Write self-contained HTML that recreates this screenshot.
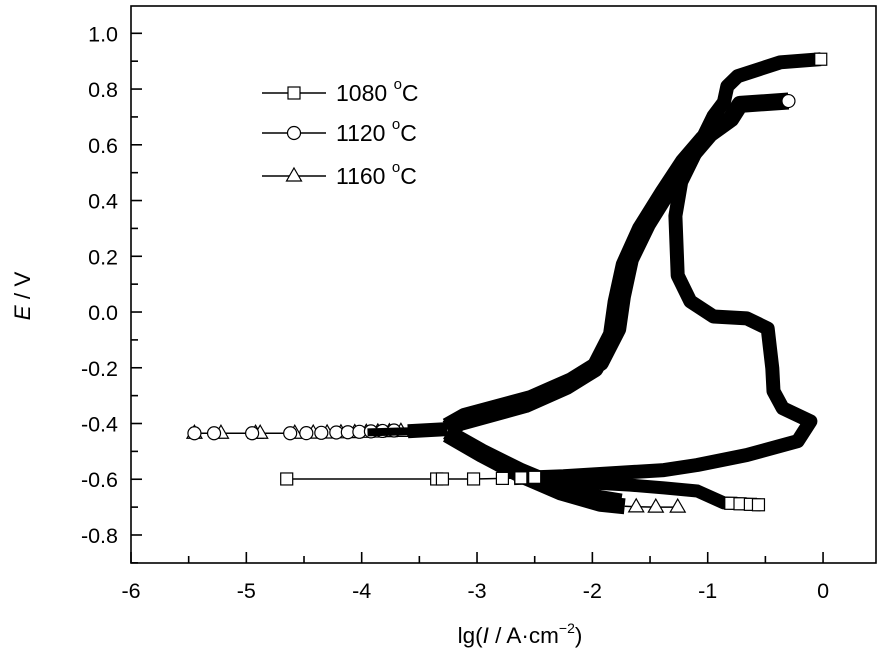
<!DOCTYPE html>
<html><head><meta charset="utf-8"><style>
body{margin:0;background:#fff}
svg{display:block;font-family:"Liberation Sans",Arial,sans-serif}
</style></head><body>
<svg id="chart" width="886" height="656" viewBox="0 0 886 656"></svg>
<script>
// ---- data (lg I, E) ----
const s1080Lg = [-4.65,-3.32,-3.02,-2.68,-2.25,-1.81,-1.38,-1.09,-0.66,-0.22,-0.11,-0.35,-0.43,-0.44,-0.46,-0.48,-0.66,-0.95,-1.15,-1.26,-1.28,-1.23,-0.95,-0.86,-0.83,-0.74,-0.37,-0.02];
const s1080E  = [-0.599,-0.599,-0.599,-0.596,-0.589,-0.578,-0.567,-0.549,-0.513,-0.463,-0.392,-0.345,-0.284,-0.202,-0.131,-0.059,-0.023,-0.016,0.038,0.131,0.345,0.467,0.703,0.753,0.810,0.846,0.896,0.907];
const s1080CathLg = [-2.45,-2.33,-1.67,-1.38,-1.09,-0.86,-0.54];
const s1080CathE  = [-0.600,-0.606,-0.621,-0.631,-0.642,-0.685,-0.692];
const s1080Markers = [-4.65,-3.35,-3.30,-3.03,-2.78,-2.62,-2.50];
const s1080CathMarkers = [-0.80,-0.72,-0.63,-0.56];

const s1120Lg = [-5.45,-4.95,-4.52,-4.09,-3.65,-3.26,-3.11,-2.53,-2.18,-1.93,-1.78,-1.74,-1.67,-1.52,-1.32,-1.15,-0.98,-0.80,-0.72,-0.30];
const s1120E  = [-0.435,-0.435,-0.435,-0.431,-0.424,-0.410,-0.375,-0.310,-0.246,-0.182,-0.061,0.056,0.189,0.317,0.450,0.557,0.639,0.693,0.745,0.757];
const s1120CathLg = [-3.26,-2.96,-2.62,-2.27,-1.93,-1.75];
const s1120CathE  = [-0.430,-0.500,-0.570,-0.630,-0.668,-0.680];
const s1120Markers = [-5.45,-5.28,-4.95,-4.62,-4.48,-4.35,-4.22,-4.12,-4.02,-3.92,-3.82,-3.72];

const s1160Lg = [-5.45,-4.95,-4.52,-4.09,-3.65,-3.26,-3.15,-2.58,-2.23,-1.98,-1.83,-1.79,-1.72,-1.58,-1.38,-1.21,-1.04,-0.90];
const s1160E  = [-0.435,-0.435,-0.435,-0.433,-0.428,-0.420,-0.395,-0.330,-0.266,-0.202,-0.081,0.036,0.169,0.297,0.430,0.537,0.619,0.675];
const s1160CathLg = [-3.26,-2.96,-2.62,-2.27,-1.93,-1.72];
const s1160CathE  = [-0.440,-0.512,-0.586,-0.648,-0.688,-0.697];
const s1160Markers = [-5.45,-5.22,-4.92,-4.88,-4.58,-4.42,-4.30,-4.18,-4.06,-3.96,-3.86,-3.76,-3.66];
const s1160EndLg = [-1.72,-1.62,-1.45,-1.26];
const s1160EndE  = [-0.697,-0.699,-0.700,-0.700];

const xTicks = [-6,-5,-4,-3,-2,-1,0];
const yTicks = [-0.8,-0.6,-0.4,-0.2,0.0,0.2,0.4,0.6,0.8,1.0];

// ---- axes ----
const L=131,R=876,T=6,B=563;
const xMin=-6,xMax=0.459,yMin=-0.9005,yMax=1.098;
const X=v=>L+(v-xMin)/(xMax-xMin)*(R-L);
const Y=v=>B-(v-yMin)/(yMax-yMin)*(B-T);
const NS="http://www.w3.org/2000/svg";
const svg=document.getElementById('chart');
function mk(tag,attrs,parent){const e=document.createElementNS(NS,tag);for(const k in attrs)e.setAttribute(k,attrs[k]);(parent||svg).appendChild(e);return e;}

const clipDefs=mk('defs',{});
const cp=mk('clipPath',{id:'pc'},clipDefs);
mk('rect',{x:L,y:T,width:R-L,height:B-T},cp);
const plot=mk('g',{'clip-path':'url(#pc)'});



function pathD(lg,E){return lg.map((v,i)=>(i?'L':'M')+X(v).toFixed(1)+','+Y(E[i]).toFixed(1)).join(' ');}
function band(lg,E,w,name){
  const p=mk('path',{d:pathD(lg,E),fill:'none',stroke:'#000','stroke-width':w,'stroke-linejoin':'round','stroke-linecap':'butt'},plot);
  
  
}
function thin(lg,E,name){
  const p=mk('path',{d:pathD(lg,E),fill:'none',stroke:'#000','stroke-width':1.5},plot);
  
  
}
function marker(type,cx,cy,name,parent){
  let e;
  if(type==='sq') e=mk('rect',{x:cx-6,y:cy-6,width:12,height:12,fill:'#fff',stroke:'#000','stroke-width':1.2},parent||plot);
  else if(type==='ci') e=mk('circle',{cx:cx,cy:cy,r:6.5,fill:'#fff',stroke:'#000','stroke-width':1.2},parent||plot);
  else e=mk('path',{d:`M${cx},${cy-8} L${cx+7.5},${cy+5} L${cx-7.5},${cy+5} Z`,fill:'#fff',stroke:'#000','stroke-width':1.2},parent||plot);
  
  
}
function valAt(lgArr,EArr,v){
  for(let i=0;i<lgArr.length-1;i++){const a=lgArr[i],b=lgArr[i+1];if((v>=a&&v<=b)||(v<=a&&v>=b)){const t=(v-a)/((b-a)||1);return EArr[i]+t*(EArr[i+1]-EArr[i]);}}
  return EArr[EArr.length-1];
}

// tails (thin line + markers)
thin(s1120Lg.slice(0,6),s1120E.slice(0,6),'series-1120-tail');
thin(s1080Lg.slice(0,8),s1080E.slice(0,8),'series-1080-tail');
thin(s1160EndLg,s1160EndE,'series-1160-end');
s1160Markers.forEach(v=>marker('tr',X(v),Y(valAt(s1160Lg,s1160E,v)),'marker-1160'));
s1120Markers.forEach(v=>marker('ci',X(v),Y(valAt(s1120Lg,s1120E,v)),'marker-1120'));
// widening tail near junction
band([-3.95,-3.6,-3.26],[-0.432,-0.428,-0.418],8,'series-tail-band');
band([-3.6,-3.26],[-0.428,-0.420],14,'series-tail-band-2');

// thick bands
band(s1160Lg.slice(5),s1160E.slice(5),18,'series-1160-anodic');
band(s1120Lg.slice(5),s1120E.slice(5),17,'series-1120-anodic');
band(s1160CathLg,s1160CathE,16,'series-1160-cathodic');
band(s1120CathLg,s1120CathE,16,'series-1120-cathodic');
band(s1080Lg.slice(3),s1080E.slice(3),14,'series-1080-loop');
band(s1080CathLg,s1080CathE,13,'series-1080-cathodic');

s1080Markers.forEach(v=>marker('sq',X(v),Y(valAt(s1080Lg,s1080E,v)),'marker-1080'));
s1080CathMarkers.forEach(v=>marker('sq',X(v),Y(valAt(s1080CathLg,s1080CathE,v)),'marker-1080'));
s1160EndLg.slice(1).forEach((v,i)=>marker('tr',X(v),Y(s1160EndE[i+1]),'marker-1160'));
marker('sq',X(s1080Lg[s1080Lg.length-1]),Y(s1080E[s1080E.length-1]),'marker-1080-end');
marker('ci',X(s1120Lg[s1120Lg.length-1]),Y(s1120E[s1120E.length-1]),'marker-1120-end');

// frame
const fr=mk('rect',{x:L,y:T,width:R-L,height:B-T,fill:'none',stroke:'#000','stroke-width':1.6});



// ticks (inward)
for(let k=0;k<=12;k++){const v=-6+k*0.5;const x=X(v),maj=k%2===0;
  const t=mk('line',{x1:x,x2:x,y1:B,y2:B-(maj?11:7),stroke:'#000','stroke-width':1.6});
  }
for(let k=0;k<=19;k++){const v=-0.9+k*0.1;const y=Y(v),maj=(k%2===1);
  const t=mk('line',{x1:L,x2:L+(maj?11:7),y1:y,y2:y,stroke:'#000','stroke-width':1.6});
  }
xTicks.forEach(v=>{const t=mk('text',{x:X(v),y:598,'font-size':21.5,'text-anchor':'middle'});t.textContent=String(v);
  });
yTicks.forEach(v=>{const t=mk('text',{x:118,y:Y(v)+8,'font-size':21.5,'text-anchor':'end'});t.textContent=v.toFixed(1);
  });

// titles
const xt=mk('text',{x:520,y:643,'font-size':22.5,'text-anchor':'middle'});
xt.innerHTML='lg(<tspan font-style="italic">I</tspan> / A·cm<tspan dy="-10" font-size="14">−2</tspan><tspan dy="10">)</tspan>';

const yt=mk('text',{x:0,y:0,'font-size':22.5,'text-anchor':'middle',transform:'translate(30,296) rotate(-90)'});
yt.innerHTML='<tspan font-style="italic">E</tspan> / V';


// legend
const legend=mk('g',{});

[['sq','1080',93],['ci','1120',133],['tr','1160',176]].forEach(([m,lab,y])=>{
  const g=mk('g',{},legend);
  
  mk('line',{x1:262,x2:326,y1:y,y2:y,stroke:'#000','stroke-width':1.5},g);
  marker(m,294,y,'legend-marker-'+lab,g);
  const t=mk('text',{x:336,y:y+8,'font-size':23},g);
  t.innerHTML=lab+' <tspan dy="-12" font-size="15">o</tspan><tspan dy="12">C</tspan>';
});
</script>
</body></html>
